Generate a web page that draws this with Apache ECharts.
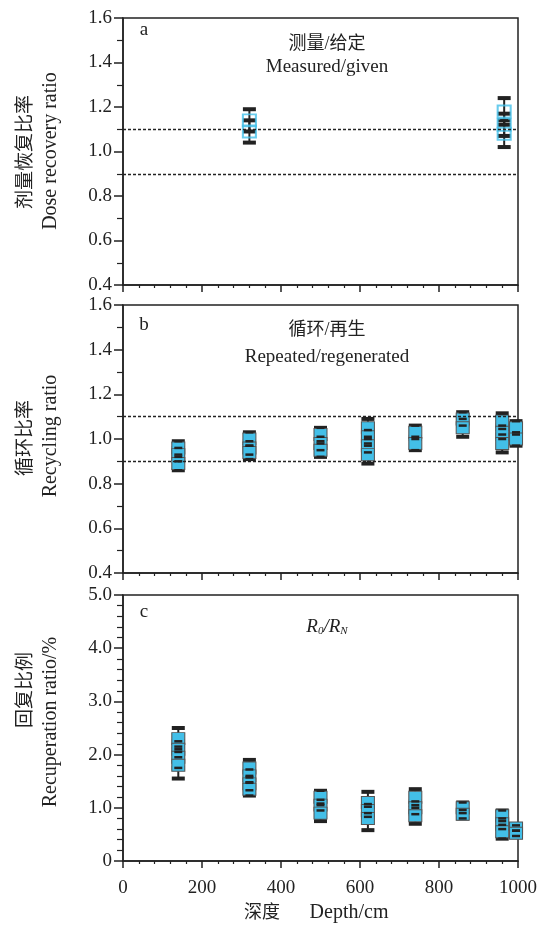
<!DOCTYPE html>
<html>
<head>
<meta charset="utf-8">
<script src="https://cdn.jsdelivr.net/npm/echarts@6/dist/echarts.min.js"></script>
<style>
  html, body { margin: 0; padding: 0; background: #fff; }
  #chart { width: 544px; height: 930px; }
</style>
</head>
<body>
<div id="chart"></div>
<script>
// 剂量恢复 (a)
const doseDepth = [320, 320, 965, 965, 965];
const doseRatio = [1.14, 1.09, 1.18, 1.12, 1.08];
const doseErr = [0.05, 0.05, 0.06, 0.05, 0.06];

// 循环比率 (b)
const recycleDepth = [140, 140, 140, 320, 320, 320, 500, 500, 500, 620, 620, 620, 620, 740, 740, 860, 860, 960, 960, 960, 995, 995];
const recycleRatio = [0.96, 0.93, 0.89, 1.00, 0.96, 0.94, 1.02, 0.98, 0.95, 1.05, 1.01, 0.97, 0.93, 1.03, 0.98, 1.09, 1.05, 1.08, 1.03, 0.98, 1.05, 1.00];
const recycleErr = [0.03, 0.03, 0.03, 0.03, 0.03, 0.03, 0.03, 0.03, 0.03, 0.04, 0.03, 0.03, 0.04, 0.03, 0.03, 0.03, 0.04, 0.035, 0.03, 0.04, 0.03, 0.03];

// 回复比例 (c)
const recupDepth = [140, 140, 140, 140, 320, 320, 320, 320, 500, 500, 500, 620, 620, 620, 740, 740, 740, 860, 860, 960, 960, 960, 995, 995];
const recupRatio = [2.3, 2.1, 1.95, 1.8, 1.75, 1.6, 1.45, 1.35, 1.2, 1.05, 0.9, 1.1, 0.95, 0.8, 1.2, 1.0, 0.85, 1.0, 0.88, 0.85, 0.7, 0.55, 0.62, 0.52];
const recupErr = [0.2, 0.15, 0.2, 0.25, 0.15, 0.12, 0.12, 0.12, 0.12, 0.1, 0.15, 0.2, 0.12, 0.22, 0.15, 0.12, 0.15, 0.1, 0.08, 0.1, 0.1, 0.13, 0.05, 0.05];

const guideLines = [1.1, 0.9];

const serif = '"Liberation Serif", "Noto Sans CJK SC", serif';
const ink = '#222';
const blue = '#43bfe8';

const chart = echarts.init(document.getElementById('chart'));

function toData(xs, ys, es) {
  return xs.map((x, i) => [x, ys[i], es[i]]);
}

function xAxisCfg(grid, showLabel) {
  return {
    type: 'value', gridIndex: grid, min: 0, max: 1000, interval: 200,
    axisLine: { show: true, lineStyle: { color: ink, width: 1.5 } },
    axisTick: { show: true, inside: false, length: 7, lineStyle: { color: ink, width: 1.5 } },
    minorTick: { show: true, splitNumber: 5, length: 3, lineStyle: { color: ink, width: 1.2 } },
    axisLabel: { show: showLabel, fontFamily: serif, fontSize: 19, color: ink, margin: 18, formatter: v => String(v) },
    splitLine: { show: false }
  };
}

function yAxisCfg(grid, min, max, interval, minorSplit) {
  return {
    type: 'value', gridIndex: grid, min: min, max: max, interval: interval,
    axisLine: { show: true, lineStyle: { color: ink, width: 1.5 } },
    axisTick: { show: true, inside: false, length: 9, lineStyle: { color: ink, width: 1.5 } },
    minorTick: { show: true, splitNumber: minorSplit, length: 6, lineStyle: { color: ink, width: 1.2 } },
    axisLabel: {
      fontFamily: serif, fontSize: 19, color: ink, margin: 11,
      formatter: v => (v === 0 ? '0' : v.toFixed(1))
    },
    splitLine: { show: false }
  };
}

// 误差棒：竖线 + 上下横帽
function barRender(withStem, capW, capH) {
  return function (params, api) {
    const x = api.value(0), y = api.value(1), e = api.value(2);
    const hi = api.coord([x, y + e]);
    const lo = api.coord([x, y - e]);
    const kids = [];
    if (withStem) {
      kids.push({ type: 'line', shape: { x1: hi[0], y1: hi[1], x2: lo[0], y2: lo[1] }, style: { stroke: ink, lineWidth: 2 } });
    }
    kids.push({ type: 'rect', shape: { x: hi[0] - capW / 2, y: hi[1] - capH / 2, width: capW, height: capH }, style: { fill: ink } });
    kids.push({ type: 'rect', shape: { x: lo[0] - capW / 2, y: lo[1] - capH / 2, width: capW, height: capH }, style: { fill: ink } });
    return { type: 'group', children: kids };
  };
}

function panelSeries(grid, xs, ys, es, filled, guides) {
  const data = toData(xs, ys, es);
  const list = [
    {
      type: 'custom', xAxisIndex: grid, yAxisIndex: grid, clip: false, z: 2,
      renderItem: barRender(true, 13, 4), data: data, encode: { x: 0, y: 1 }
    },
    {
      type: 'scatter', xAxisIndex: grid, yAxisIndex: grid, clip: false, z: 3,
      symbol: 'rect', symbolSize: [13, 12],
      itemStyle: filled
        ? { color: blue, borderColor: '#555', borderWidth: 1, opacity: 1 }
        : { color: 'rgba(255,255,255,0)', borderColor: blue, borderWidth: 2 },
      data: data.map(d => [d[0], d[1]])
    },
    {
      type: 'custom', xAxisIndex: grid, yAxisIndex: grid, clip: false, z: 4,
      renderItem: barRender(false, 8, 2.5), data: data, encode: { x: 0, y: 1 }
    }
  ];
  if (guides) {
    list[0].markLine = {
      silent: true, symbol: 'none', label: { show: false },
      lineStyle: { color: ink, width: 1.3, type: [3, 2] },
      data: guides.map(v => ({ yAxis: v }))
    };
  }
  return list;
}

function txt(text, x, y, size, opts) {
  return {
    type: 'text', x: x, y: y, rotation: (opts && opts.rot) || 0, z: 10,
    style: Object.assign({
      text: text, fill: ink, font: size + 'px ' + serif,
      align: 'center', verticalAlign: 'middle'
    }, (opts && opts.style) || {})
  };
}

const option = {
  animation: false,
  grid: [
    { left: 123, width: 395, top: 18, height: 267, show: true, borderColor: ink, borderWidth: 1.5 },
    { left: 123, width: 395, top: 305, height: 268, show: true, borderColor: ink, borderWidth: 1.5 },
    { left: 123, width: 395, top: 595, height: 266, show: true, borderColor: ink, borderWidth: 1.5 }
  ],
  xAxis: [xAxisCfg(0, false), xAxisCfg(1, false), xAxisCfg(2, true)],
  yAxis: [
    yAxisCfg(0, 0.4, 1.6, 0.2, 2),
    yAxisCfg(1, 0.4, 1.6, 0.2, 2),
    yAxisCfg(2, 0, 5, 1, 5)
  ],
  series: [].concat(
    panelSeries(0, doseDepth, doseRatio, doseErr, false, guideLines),
    panelSeries(1, recycleDepth, recycleRatio, recycleErr, true, guideLines),
    panelSeries(2, recupDepth, recupRatio, recupErr, true, null)
  ),
  graphic: [
    txt('a', 144, 30, 19),
    txt('b', 144, 325, 19),
    txt('c', 144, 612, 19),
    txt('测量/给定', 327, 44, 18),
    txt('Measured/given', 327, 67, 19),
    txt('循环/再生', 327, 330, 18),
    txt('Repeated/regenerated', 327, 357, 19),
    {
      type: 'text', x: 327, y: 627, z: 10,
      style: {
        text: '{i|R}{s|0}{i|/R}{s|N}', align: 'center', verticalAlign: 'middle', fill: ink,
        rich: {
          i: { font: 'italic 19px ' + serif, fill: ink },
          s: { font: 'italic 11px ' + serif, fill: ink, padding: [9, 0, 0, 0] }
        }
      }
    },
    txt('剂量恢复比率', 26, 152, 19, { rot: Math.PI / 2 }),
    txt('Dose recovery ratio', 51, 151, 20, { rot: Math.PI / 2 }),
    txt('循环比率', 26, 438, 19, { rot: Math.PI / 2 }),
    txt('Recycling ratio', 51, 436, 20, { rot: Math.PI / 2 }),
    txt('回复比例', 26, 690, 19, { rot: Math.PI / 2 }),
    txt('Recuperation ratio/%', 51, 722, 20, { rot: Math.PI / 2 }),
    txt('深度', 262, 913, 18),
    txt('Depth/cm', 349, 913, 20)
  ]
};

chart.setOption(option);
</script>
</body>
</html>
